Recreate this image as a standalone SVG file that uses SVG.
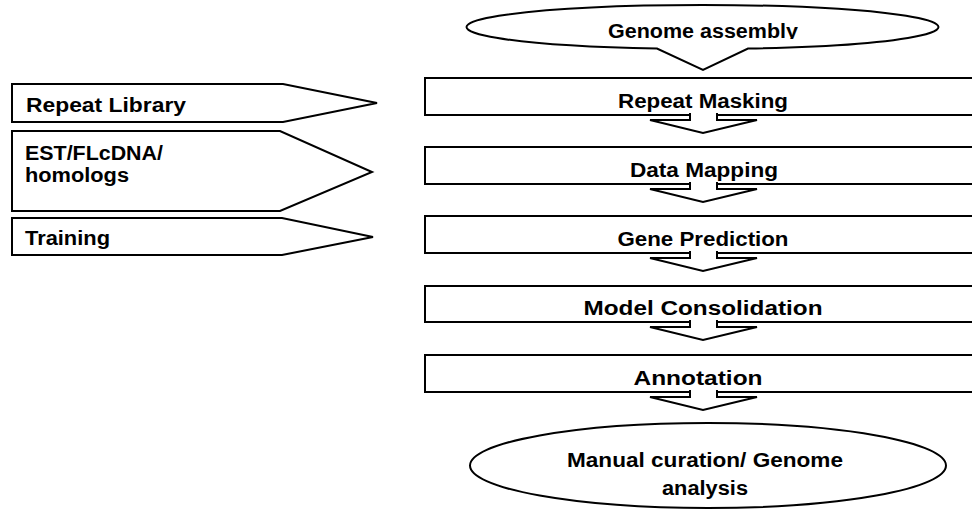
<svg xmlns="http://www.w3.org/2000/svg" width="972" height="515" viewBox="0 0 972 515">
  <style>
    .shape { fill: #ffffff; stroke: #000000; stroke-width: 2; stroke-linejoin: miter; }
    .label { font-family: "Liberation Sans", Arial, sans-serif; font-weight: bold; font-size: 20px; fill: #000000; }
    .mid { text-anchor: middle; }
  </style>
  <defs>
    <!-- the title label is cut just below its baseline -->
    <clipPath id="titleClip">
      <rect x="560" y="10" width="300" height="29"/>
    </clipPath>
  </defs>
  <rect width="972" height="515" fill="#ffffff"/>

  <!-- input sources -->
  <g id="repeat-library">
    <polygon class="shape" points="12,84 283,84 377,103 283,122 12,122"/>
    <text class="label" x="26" y="112" textLength="160" lengthAdjust="spacingAndGlyphs">Repeat Library</text>
  </g>
  <g id="est-flcdna">
    <polygon class="shape" points="12,131 280,131 372,172 280,211 12,211"/>
    <text class="label" x="25" y="160" textLength="138" lengthAdjust="spacingAndGlyphs">EST/FLcDNA/</text>
    <text class="label" x="25" y="182" textLength="104" lengthAdjust="spacingAndGlyphs">homologs</text>
  </g>
  <g id="training">
    <polygon class="shape" points="12,218 282,218 373,237 282,255 12,255"/>
    <text class="label" x="25" y="245" textLength="85" lengthAdjust="spacingAndGlyphs">Training</text>
  </g>

  <!-- pipeline steps -->
  <g id="genome-assembly">
    <path class="shape" d="M748,48.6 A236,22 0 1 0 657,48.6 L703,70 Z"/>
    <text class="label mid" x="703" y="38" textLength="190" lengthAdjust="spacingAndGlyphs" clip-path="url(#titleClip)">Genome assembly</text>
  </g>
  <g id="repeat-masking">
    <rect class="shape" x="425" y="78" width="570" height="37"/>
    <text class="label mid" x="703" y="108" textLength="170" lengthAdjust="spacingAndGlyphs">Repeat Masking</text>
  </g>
  <g id="data-mapping">
    <rect class="shape" x="425" y="147" width="570" height="37"/>
    <text class="label mid" x="704" y="177" textLength="148" lengthAdjust="spacingAndGlyphs">Data Mapping</text>
  </g>
  <g id="gene-prediction">
    <rect class="shape" x="425" y="216" width="570" height="37"/>
    <text class="label mid" x="703" y="246" textLength="171" lengthAdjust="spacingAndGlyphs">Gene Prediction</text>
  </g>
  <g id="model-consolidation">
    <rect class="shape" x="425" y="286" width="570" height="36"/>
    <text class="label mid" x="703" y="315" textLength="239" lengthAdjust="spacingAndGlyphs">Model Consolidation</text>
  </g>
  <g id="annotation">
    <rect class="shape" x="425" y="355" width="570" height="37"/>
    <text class="label mid" x="698" y="385" textLength="129" lengthAdjust="spacingAndGlyphs">Annotation</text>
  </g>
  <g id="manual-curation">
    <ellipse class="shape" cx="708" cy="465.5" rx="238" ry="42.5"/>
    <text class="label mid" x="705" y="467" textLength="276" lengthAdjust="spacingAndGlyphs">Manual curation/ Genome</text>
    <text class="label mid" x="705" y="495" textLength="86" lengthAdjust="spacingAndGlyphs">analysis</text>
  </g>

  <!-- block arrows between steps; the fill hides the box edge under the shaft -->
  <g id="connectors" class="shape">
    <path d="M690,113 V120 H650 L703,133 L757,120 H717 V113"/>
    <path d="M690,182 V189 H650 L703,202 L757,189 H717 V182"/>
    <path d="M690,251 V258 H650 L703,271 L757,258 H717 V251"/>
    <path d="M690,320 V327 H650 L703,340 L757,327 H717 V320"/>
    <path d="M690,390 V397 H650 L703,410 L757,397 H717 V390"/>
  </g>
</svg>
